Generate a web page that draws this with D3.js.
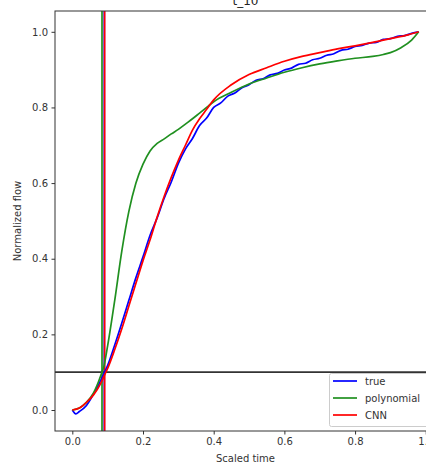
<!DOCTYPE html>
<html><head><meta charset="utf-8">
<script src="https://cdn.jsdelivr.net/npm/d3@7"></script>
<style>
html,body{margin:0;padding:0;background:#fff;overflow:hidden;}
svg{display:block;font-family:"DejaVu Sans",sans-serif;}
</style></head><body>
<svg id="c" width="426" height="468"></svg>
<script>
const title = "t_10";
const xTicks = [0.0, 0.2, 0.4, 0.6, 0.8, 1.0];
const yTicks = [0.0, 0.2, 0.4, 0.6, 0.8, 1.0];
const trueX = [0,0.01,0.02,0.04,0.06,0.08,0.10,0.12,0.14,0.16,0.18,0.20,0.22,0.24,0.26,0.28,0.30,0.32,0.34,0.36,0.38,0.40,0.42,0.44,0.46,0.48,0.50,0.52,0.54,0.56,0.58,0.60,0.62,0.64,0.66,0.68,0.70,0.72,0.74,0.76,0.78,0.80,0.82,0.84,0.86,0.88,0.90,0.92,0.94,0.96,0.98];
const trueY = [0.000,-0.010,-0.004,0.012,0.042,0.078,0.118,0.172,0.230,0.290,0.350,0.405,0.462,0.508,0.560,0.603,0.652,0.690,0.718,0.752,0.772,0.800,0.812,0.830,0.838,0.852,0.860,0.872,0.876,0.886,0.890,0.899,0.904,0.914,0.917,0.926,0.930,0.938,0.942,0.951,0.954,0.961,0.964,0.970,0.972,0.980,0.982,0.988,0.990,0.996,1.000];
const polyX = [0,0.02,0.04,0.06,0.07,0.08,0.09,0.10,0.12,0.14,0.16,0.18,0.20,0.22,0.24,0.26,0.28,0.30,0.32,0.34,0.36,0.38,0.40,0.45,0.50,0.55,0.60,0.65,0.70,0.75,0.80,0.85,0.88,0.90,0.93,0.96,0.98];
const polyY = [0,0.005,0.02,0.045,0.065,0.09,0.118,0.17,0.29,0.42,0.525,0.6,0.65,0.685,0.705,0.717,0.73,0.742,0.756,0.77,0.785,0.8,0.815,0.84,0.862,0.878,0.893,0.905,0.915,0.923,0.93,0.935,0.94,0.945,0.958,0.978,1.0];
const cnnX = [0,0.02,0.04,0.06,0.08,0.09,0.10,0.12,0.14,0.16,0.18,0.20,0.22,0.24,0.26,0.28,0.30,0.32,0.34,0.36,0.38,0.40,0.45,0.50,0.55,0.60,0.65,0.70,0.75,0.80,0.85,0.90,0.95,0.98];
const cnnY = [0,0.005,0.02,0.04,0.07,0.09,0.11,0.16,0.215,0.275,0.335,0.395,0.45,0.51,0.565,0.615,0.66,0.70,0.74,0.77,0.795,0.82,0.86,0.887,0.905,0.922,0.935,0.945,0.955,0.963,0.972,0.982,0.992,1.0];
const thresholdY = 0.1;
const crossX = [0.084, 0.0905, 0.0914];
const crossColors = ["#209020", "blue", "red"];
const seriesNames = ["true", "polynomial", "CNN"];
const seriesColors = ["blue", "#209020", "red"];

const svg = d3.select("#c");
const L = 55, R = 436, T = 11, B = 431;
const x = d3.scaleLinear().domain([-0.049, 1.029]).range([L, R]);
const y = d3.scaleLinear().domain([-0.0555, 1.055]).range([B, T]);

svg.append("defs").append("clipPath").attr("id","clip")
  .append("rect").attr("x",L).attr("y",T).attr("width",R-L).attr("height",B-T);

const g = svg.append("g").attr("clip-path","url(#clip)");
const line = d3.line().x(d=>x(d[0])).y(d=>y(d[1])).curve(d3.curveMonotoneX);
const data = [
  d3.zip(trueX, trueY),
  d3.zip(polyX, polyY),
  d3.zip(cnnX, cnnY)
];
crossX.forEach((cx,i)=>{
  g.append("line").attr("x1",x(cx)).attr("x2",x(cx)).attr("y1",T).attr("y2",B)
   .attr("stroke",crossColors[i]).attr("stroke-width",1.7);
});
g.append("line").attr("x1",L).attr("x2",R).attr("y1",y(thresholdY)).attr("y2",y(thresholdY))
  .attr("stroke","#333").attr("stroke-width",1.7);
data.forEach((d,i)=>{
  g.append("path").datum(d).attr("d",line).attr("fill","none")
   .attr("stroke",seriesColors[i]).attr("stroke-width",1.7).attr("stroke-linejoin","round");
});

const xa = svg.append("g").attr("transform",`translate(0,${B})`)
  .call(d3.axisBottom(x).tickValues(xTicks).tickFormat(d3.format(".1f")).tickSize(3.5).tickPadding(3.5));
const ya = svg.append("g").attr("transform",`translate(${L},0)`)
  .call(d3.axisLeft(y).tickValues(yTicks).tickFormat(d3.format(".1f")).tickSize(3.5).tickPadding(3.5));
[xa,ya].forEach(a=>{
  a.select(".domain").remove();
  a.selectAll("text").attr("font-size",10).attr("fill","#333").attr("font-family","DejaVu Sans");
  a.selectAll("line").attr("stroke","#333");
});
svg.append("rect").attr("x",L).attr("y",T).attr("width",R-L).attr("height",B-T)
  .attr("fill","none").attr("stroke","#333").attr("stroke-width",1);

svg.append("text").attr("x",(L+R)/2).attr("y",5).attr("text-anchor","middle")
  .attr("font-size",12).attr("fill","#222").text(title);
svg.append("text").attr("x",(L+R)/2).attr("y",462).attr("text-anchor","middle")
  .attr("font-size",10).attr("fill","#333").text("Scaled time");
svg.append("text").attr("transform",`translate(21,${(T+B)/2}) rotate(-90)`).attr("text-anchor","middle")
  .attr("font-size",10).attr("fill","#333").text("Normalized flow");

const lg = svg.append("g");
lg.append("rect").attr("x",329.5).attr("y",373.5).attr("width",104).attr("height",53).attr("rx",2)
  .attr("fill","white").attr("fill-opacity",0.8).attr("stroke","#ccc");
seriesNames.forEach((n,i)=>{
  const yy = 381 + i*17;
  lg.append("line").attr("x1",333).attr("x2",357).attr("y1",yy).attr("y2",yy)
    .attr("stroke",seriesColors[i]).attr("stroke-width",1.7);
  lg.append("text").attr("x",365).attr("y",yy+3.5).attr("font-size",10).attr("fill","#333").text(n);
});
</script></body></html>
